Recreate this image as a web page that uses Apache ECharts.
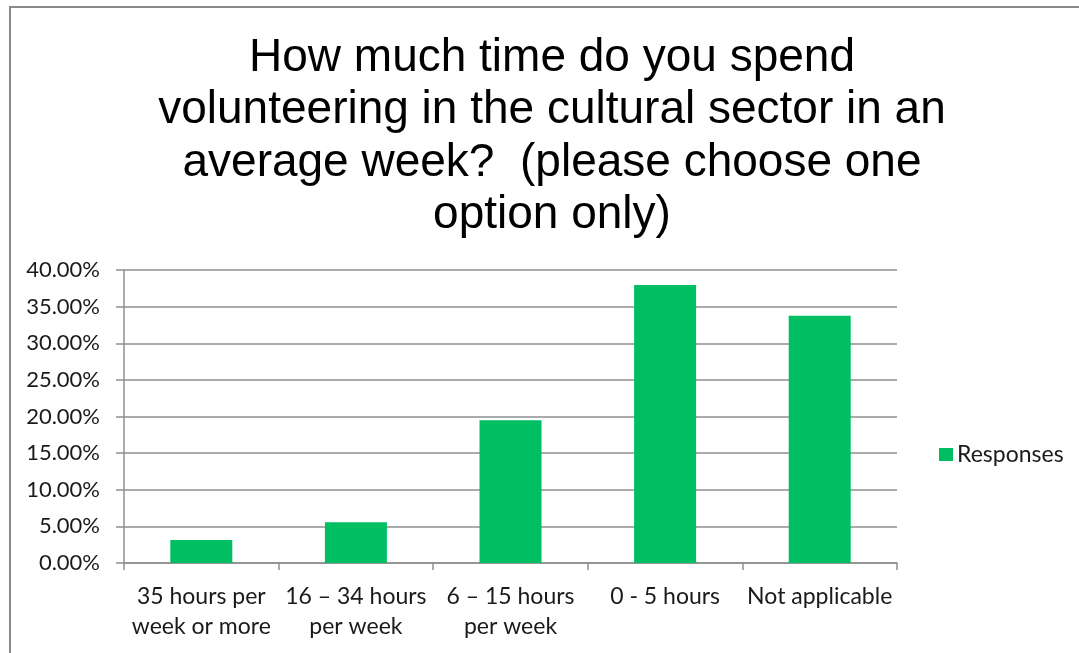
<!DOCTYPE html>
<html>
<head>
<meta charset="utf-8">
<script src="https://cdn.jsdelivr.net/npm/echarts@6/dist/echarts.min.js"></script>
<style>
  html, body { margin: 0; padding: 0; background: #ffffff; }
  #chart { width: 1079px; height: 653px; }
</style>
</head>
<body>
<div id="chart"></div>
<script>
// Survey: weekly hours spent volunteering in the cultural sector
const titleText = 'How much time do you spend\nvolunteering in the cultural sector in an\naverage week?  (please choose one\noption only)';
const categories = ['35 hours per\nweek or more', '16 – 34 hours\nper week', '6 – 15 hours\nper week', '0 - 5 hours', 'Not applicable'];
const responses = [3.15, 5.55, 19.5, 37.96, 33.75];   // percent of respondents
const seriesName = 'Responses';
const yMin = 0, yMax = 40, yStep = 5;

const gridGray = '#8f8f8f';
const barGreen = '#00bf63';
const labelFont = 'Lato, "Open Sans", sans-serif';

const chart = echarts.init(document.getElementById('chart'), null, { renderer: 'canvas' });

chart.setOption({
  backgroundColor: '#ffffff',
  animation: false,
  graphic: [{
    type: 'rect',
    shape: { x: 10, y: 7, width: 1100, height: 700 },
    style: { fill: 'none', stroke: '#8a8a8a', lineWidth: 2 },
    silent: true
  }],
  title: {
    text: titleText,
    left: 547,
    textAlign: 'center',
    top: 27,
    textStyle: {
      fontFamily: '"Liberation Sans", Arial, sans-serif',
      fontSize: 46,
      fontWeight: 'normal',
      color: '#000000',
      lineHeight: 52.5
    }
  },
  legend: {
    data: [seriesName],
    left: 934,
    top: 438,
    icon: 'rect',
    itemWidth: 14,
    itemHeight: 13,
    itemGap: 0,
    textStyle: { fontFamily: labelFont, fontSize: 23, color: '#1a1a1a', padding: [0, 0, 0, -1] }
  },
  grid: { left: 124, right: 182, top: 270, bottom: 90, containLabel: false },
  xAxis: {
    type: 'category',
    data: categories,
    axisLine: { show: true, lineStyle: { color: gridGray, width: 1.5 } },
    axisTick: { show: true, alignWithLabel: false, length: 7, lineStyle: { color: gridGray, width: 1.5 } },
    axisLabel: {
      interval: 0,
      margin: 19,
      fontFamily: labelFont,
      fontSize: 23,
      color: '#1a1a1a',
      lineHeight: 30
    }
  },
  yAxis: {
    type: 'value',
    min: yMin,
    max: yMax,
    interval: yStep,
    axisLine: { show: true, lineStyle: { color: gridGray, width: 1.5 } },
    axisTick: { show: true, length: 8, lineStyle: { color: gridGray, width: 1.5 } },
    splitLine: { show: true, lineStyle: { color: gridGray, width: 1.5 } },
    axisLabel: {
      margin: 24,
      fontFamily: labelFont,
      fontSize: 22,
      color: '#1a1a1a',
      formatter: v => v.toFixed(2) + '%'
    }
  },
  series: [{
    name: seriesName,
    type: 'bar',
    data: responses,
    barWidth: 62,
    itemStyle: { color: barGreen }
  }]
});
</script>
</body>
</html>
